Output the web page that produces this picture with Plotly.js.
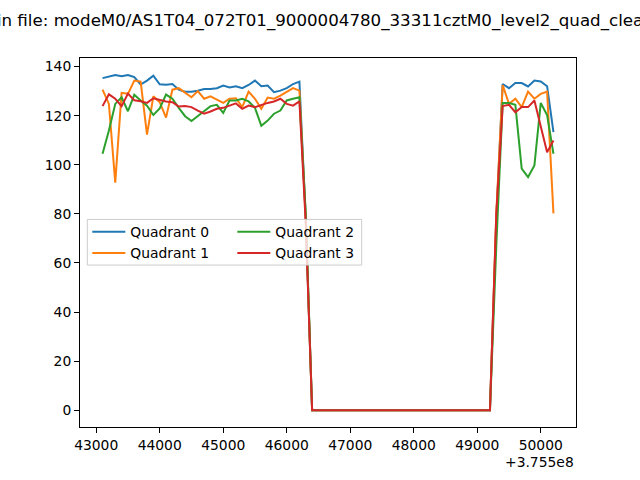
<!DOCTYPE html>
<html><head><meta charset="utf-8">
<script src="https://cdn.plot.ly/plotly-3.0.1.min.js"></script>
<style>html,body{margin:0;padding:0;background:#fff;} #chart{width:640px;height:480px;}</style>
</head><body><div id="chart"></div>
<script>
// time offsets from 3.755e8
const times = [43100,43200,43300,43400,43500,43600,43700,43800,43900,44000,
44100,44200,44300,44400,44500,44600,44700,44800,44900,45000,
45100,45200,45300,45400,45500,45600,45700,45800,45900,46000,
46100,46200,46300,46400,46500,46600,46700,46800,46900,47000,
47100,47200,47300,47400,47500,47600,47700,47800,47900,48000,
48100,48200,48300,48400,48500,48600,48700,48800,48900,49000,
49100,49200,49300,49400,49500,49600,49700,49800,49900,50000,
50100,50200];

const quadrant0 = [135.3,135.9,136.6,136.1,136.6,135.7,132.7,134.3,136.3,132.8,
132.6,132.9,130.6,129.8,129.8,130.2,130.9,130.9,131.2,132.3,
131.5,132.0,131.2,132.5,134.3,132.0,132.3,129.6,130.2,131.2,
132.9,133.9,78,0,0,0,0,0,0,0,
0,0,0,0,0,0,0,0,0,0,
0,0,0,0,0,0,0,0,0,0,
0,0,78,132.9,131.2,133.3,133.3,131.9,134.3,133.9,
132.0,113.3];

const quadrant1 = [130.6,124.8,92.7,129.3,128.9,134.3,133.9,112.3,127.9,125.5,
119.2,130.6,131.2,129.3,127.5,130.0,126.9,127.9,126.4,125.2,
126.9,127.1,123.5,129.8,126.9,122.8,127.4,126.9,128.2,129.8,
131.2,130.2,78,0,0,0,0,0,0,0,
0,0,0,0,0,0,0,0,0,0,
0,0,0,0,0,0,0,0,0,0,
0,0,80,132.5,124.8,126.9,123.5,129.8,126.9,128.9,
129.8,80.2];

const quadrant2 = [104.5,114.0,124.8,127.5,121.8,128.5,126.2,124.1,120.3,123.0,
128.6,126.9,123.2,119.8,117.8,119.8,122.1,123.9,124.4,121.1,
126.2,126.2,126.9,125.8,123.2,115.9,118.0,120.8,122.1,126.2,
126.9,127.5,80,0,0,0,0,0,0,0,
0,0,0,0,0,0,0,0,0,0,
0,0,0,0,0,0,0,0,0,0,
0,0,67,125.2,125.2,124.4,98.4,95.0,99.7,125.2,
120.3,104.5];

const quadrant3 = [123.9,128.7,126.9,123.9,129.0,126.3,125.9,125.2,127.1,126.3,
125.8,125.5,123.7,123.9,123.5,122.1,120.8,121.7,122.8,123.2,
124.1,125.0,122.8,124.1,123.5,124.4,125.2,125.8,126.9,124.8,
124.1,125.8,76,0,0,0,0,0,0,0,
0,0,0,0,0,0,0,0,0,0,
0,0,0,0,0,0,0,0,0,0,
0,0,80,123.9,124.4,121.4,123.5,123.5,126.2,116.0,
105.1,109.9];

const seriesNames = ['Quadrant 0','Quadrant 1','Quadrant 2','Quadrant 3'];
const seriesColors = ['#1f77b4','#ff7f0e','#2ca02c','#d62728'];
const xTickVals = [43000,44000,45000,46000,47000,48000,49000,50000];
const xTickText = ['43000','44000','45000','46000','47000','48000','49000','50000'];
const yTickVals = [0,20,40,60,80,100,120,140];
const yTickText = ['0','20','40','60','80','100','120','140'];
const offsetLabel = '+3.755e8';
const titlePrefix = 'Count rate i';
const titleRest = 'n file: modeM0/AS1T04_072T01_9000004780_33311cztM0_level2_quad_clean.evt';

const FONT = 'DejaVu Sans';
const FS = 13.89, TFS = 16.67;
const series = [quadrant0, quadrant1, quadrant2, quadrant3];
const legendFor = ['legend','legend','legend2','legend2'];

const traces = series.map((vals, i) => ({
  type: 'scatter', mode: 'lines', x: times, y: vals, name: seriesNames[i],
  line: {color: seriesColors[i], width: 2}, legend: legendFor[i], hoverinfo: 'skip'
}));

// plot geometry (pixels)
const L = 80, R = 64, T = 57.6, B = 52.8, W = 640, H = 480;
const pw = W - L - R, ph = H - T - B;
const px2x = p => (p - L) / pw;
const px2y = p => (H - B - p) / ph;

// measure hidden title prefix so the visible part lines up
const cv = document.createElement('canvas').getContext('2d');
cv.font = TFS + 'px "' + FONT + '"';
const prefixW = cv.measureText(titlePrefix).width;

const legendCommon = {
  orientation: 'v', xanchor: 'left', yanchor: 'top', bgcolor: 'rgba(0,0,0,0)',
  borderwidth: 0, itemwidth: 33, font: {family: FONT, size: FS, color: '#000'}, traceorder: 'normal'
};

const layout = {
  width: W, height: H,
  margin: {l: L, r: R, t: T, b: B, pad: 0},
  paper_bgcolor: '#fff', plot_bgcolor: '#fff',
  showlegend: true,
  font: {family: FONT, size: FS, color: '#000'},
  xaxis: {
    range: [42745, 50555], tickmode: 'array', tickvals: xTickVals, ticktext: xTickText,
    ticks: 'outside', ticklen: 5, tickwidth: 1, tickcolor: '#000',
    showline: true, linecolor: '#000', linewidth: 1, mirror: true,
    showgrid: false, zeroline: false,
    tickfont: {family: FONT, size: FS, color: '#000'}
  },
  yaxis: {
    range: [-6.83, 143.5], tickmode: 'array', tickvals: yTickVals, ticktext: yTickText,
    ticks: 'outside', ticklen: 5, tickwidth: 1, tickcolor: '#000',
    showline: true, linecolor: '#000', linewidth: 1, mirror: true,
    showgrid: false, zeroline: false,
    tickfont: {family: FONT, size: FS, color: '#000'}
  },
  legend: Object.assign({}, legendCommon, {x: px2x(87.3), y: px2y(216.2)}),
  legend2: Object.assign({}, legendCommon, {x: px2x(232.3), y: px2y(216.2)}),
  shapes: [{
    type: 'rect', xref: 'paper', yref: 'paper', layer: 'above',
    x0: px2x(87.3), x1: px2x(361.7), y0: px2y(265), y1: px2y(219.3),
    fillcolor: 'rgba(255,255,255,0.8)', line: {color: '#cccccc', width: 1}
  }],
  annotations: [
    {text: offsetLabel, xref: 'paper', yref: 'paper', x: 1, xanchor: 'right',
     y: px2y(462), yanchor: 'middle', showarrow: false,
     font: {family: FONT, size: FS, color: '#000'}},
    {text: titlePrefix + titleRest, xref: 'paper', yref: 'paper',
     x: px2x(-0.5 - prefixW), xanchor: 'left', y: px2y(20.5), yanchor: 'middle',
     showarrow: false, font: {family: FONT, size: TFS, color: '#000'}}
  ]
};

Plotly.newPlot('chart', traces, layout, {displayModeBar: false, staticPlot: true});
</script>
</body></html>
